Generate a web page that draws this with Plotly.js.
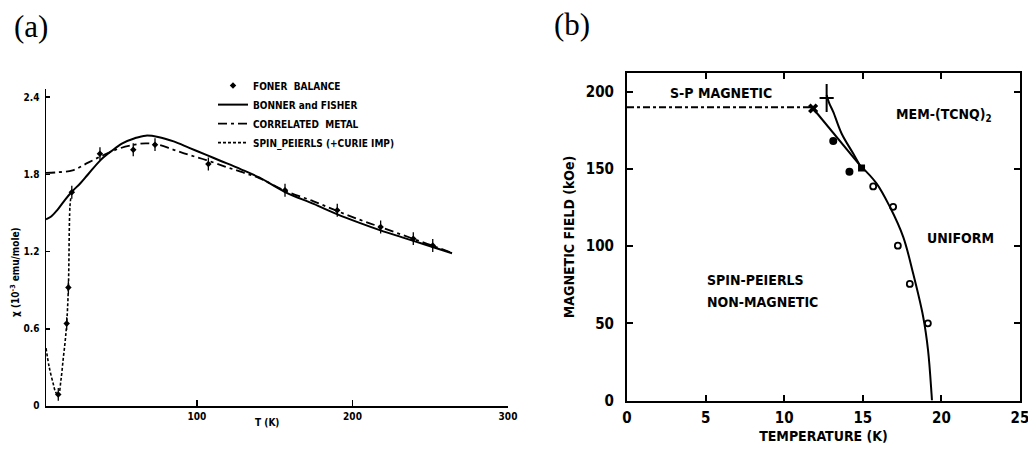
<!DOCTYPE html>
<html>
<head>
<meta charset="utf-8">
<script src="https://cdn.plot.ly/plotly-3.0.1.min.js"></script>
<style>html,body{margin:0;padding:0;background:#fff;}#chart{width:1028px;height:453px;}</style>
</head>
<body>
<div id="chart"></div>
<script>
// ---------- Panel (a): susceptibility vs temperature ----------
const fonerT   = [10.8, 16.2, 17.3, 19.5, 37.6, 59, 73, 107.3, 156.6, 190.2, 218.1, 239.1, 251.6];
const fonerChi = [0.09, 0.64, 0.92, 1.66, 1.96, 1.99, 2.03, 1.88, 1.676, 1.52, 1.39, 1.30, 1.247];
const fonerErr = [0.05, 0.05, 0.05, 0.05, 0.05, 0.05, 0.05, 0.05, 0.05, 0.05, 0.05, 0.05, 0.05];

const bonnerT   = [2.9, 6, 10, 15, 20, 25, 30, 38, 45, 52, 60, 67, 75, 85, 95, 106, 115, 128, 140, 157, 175, 190, 205, 218, 232, 245, 258, 264];
const bonnerChi = [1.45, 1.47, 1.52, 1.60, 1.67, 1.73, 1.80, 1.91, 1.98, 2.04, 2.08, 2.10, 2.09, 2.055, 2.005, 1.95, 1.905, 1.84, 1.775, 1.66, 1.57, 1.49, 1.42, 1.364, 1.31, 1.26, 1.21, 1.187];

const metalT   = [2.9, 10, 20, 30, 40, 50, 60, 67, 75, 85, 95, 106, 118, 128, 140, 157, 175, 190, 205, 218, 233, 248, 264];
const metalChi = [1.81, 1.815, 1.83, 1.89, 1.95, 2.00, 2.03, 2.04, 2.03, 1.99, 1.95, 1.91, 1.86, 1.82, 1.77, 1.67, 1.59, 1.515, 1.445, 1.39, 1.325, 1.26, 1.19];

const spT   = [2.9, 5, 7.6, 9, 10.8, 12.5, 14, 15.2, 16.2, 17.3, 18.3, 19];
const spChi = [0.45, 0.30, 0.17, 0.11, 0.08, 0.20, 0.37, 0.50, 0.64, 0.92, 1.55, 1.63];

const aYTickVals = [0, 0.6, 1.2, 1.8, 2.4];
const aYTickText = ["0", "0.6", "1.2", "1.8", "2.4"];
const aXTickVals = [100, 200, 300];

// ---------- Panel (b): phase diagram ----------
const dashBoundaryT = [0, 11.8];
const dashBoundaryH = [190, 190];

const upperCurveT = [11.84, 13.3, 14.81];
const upperCurveH = [189.2, 171.5, 152.5];
const plusCurveT = [12.7, 12.85, 13.12, 13.65, 14.39, 14.81];
const plusCurveH = [198, 193, 187, 173, 160, 152.5];
const mainCurveT = [14.81, 15.87, 16.72, 17.57, 18.2, 18.84, 19.15, 19.37, 19.4];
const mainCurveH = [152.5, 140.7, 125.5, 106, 82.4, 54.3, 32.7, 4.7, 0];

const filledCircT = [13.12, 14.15];
const filledCircH = [168.1, 148.2];
const squareT = [14.92];
const squareH = [150.6];
const openCircT = [15.66, 16.93, 17.23, 17.99, 19.14];
const openCircH = [138.7, 125.5, 100.3, 75.5, 50.0];
const crossT = [11.84];
const crossH = [189.2];
const plusT = [12.7];
const plusH = [196];

const bXTickVals = [0, 5, 10, 15, 20, 25];
const bYTickVals = [0, 50, 100, 150, 200];

const FONT = "DejaVu Sans Condensed, DejaVu Sans, Arial, sans-serif";
const K = "#000";

const traces = [
  {x: fonerT, y: fonerChi, xaxis: "x", yaxis: "y", type: "scatter", mode: "markers",
   name: "FONER  BALANCE",
   marker: {symbol: "diamond", size: 5, color: K},
   error_y: {type: "data", array: fonerErr, visible: true, color: K, thickness: 1.3, width: 0}},
  {x: bonnerT, y: bonnerChi, xaxis: "x", yaxis: "y", type: "scatter", mode: "lines",
   name: "BONNER and FISHER", line: {color: K, width: 2, shape: "spline"}},
  {x: metalT, y: metalChi, xaxis: "x", yaxis: "y", type: "scatter", mode: "lines",
   name: "CORRELATED  METAL", line: {color: K, width: 1.8, dash: "9px,4px,3px,4px", shape: "spline"}},
  {x: spT, y: spChi, xaxis: "x", yaxis: "y", type: "scatter", mode: "lines",
   name: "SPIN_PEIERLS (+CURIE IMP)", line: {color: K, width: 1.6, dash: "3px,2px", shape: "spline"}},

  {x: dashBoundaryT, y: dashBoundaryH, xaxis: "x2", yaxis: "y2", type: "scatter", mode: "lines",
   showlegend: false, line: {color: K, width: 2, dash: "7px,3px,3px,3px"}},
  {x: upperCurveT, y: upperCurveH, xaxis: "x2", yaxis: "y2", type: "scatter", mode: "lines",
   showlegend: false, line: {color: K, width: 2}},
  {x: plusCurveT, y: plusCurveH, xaxis: "x2", yaxis: "y2", type: "scatter", mode: "lines",
   showlegend: false, line: {color: K, width: 2, shape: "spline"}},
  {x: mainCurveT, y: mainCurveH, xaxis: "x2", yaxis: "y2", type: "scatter", mode: "lines",
   showlegend: false, line: {color: K, width: 2, shape: "spline"}},
  {x: filledCircT, y: filledCircH, xaxis: "x2", yaxis: "y2", type: "scatter", mode: "markers",
   showlegend: false, marker: {symbol: "circle", size: 8, color: K}},
  {x: squareT, y: squareH, xaxis: "x2", yaxis: "y2", type: "scatter", mode: "markers",
   showlegend: false, marker: {symbol: "square", size: 7, color: K}},
  {x: openCircT, y: openCircH, xaxis: "x2", yaxis: "y2", type: "scatter", mode: "markers",
   showlegend: false, marker: {symbol: "circle-open", size: 6, color: K, line: {width: 1.8, color: K}}},
  {x: crossT, y: crossH, xaxis: "x2", yaxis: "y2", type: "scatter", mode: "markers",
   showlegend: false, marker: {symbol: "x", size: 9, color: K}},
  {x: plusT, y: plusH, xaxis: "x2", yaxis: "y2", type: "scatter", mode: "markers",
   showlegend: false, marker: {symbol: "circle", size: 2, color: K},
   error_x: {type: "constant", value: 0.45, color: K, thickness: 2, width: 0},
   error_y: {type: "constant", value: 9, color: K, thickness: 2, width: 0}}
];

const bold = (size) => ({family: FONT, size: size, color: K, weight: "bold"});

const layout = {
  width: 1028, height: 453,
  margin: {l: 0, r: 0, t: 0, b: 0},
  paper_bgcolor: "#fff", plot_bgcolor: "rgba(0,0,0,0)",
  font: {family: FONT, color: K},
  showlegend: true,
  legend: {x: 213/1028, y: 0.843, xanchor: "left", yanchor: "top",
           bgcolor: "rgba(0,0,0,0)", font: bold(10), tracegroupgap: 0},
  xaxis: {domain: [46/1028, 508/1028], range: [2.9, 300], anchor: "y",
          tickvals: aXTickVals, ticks: "inside", ticklen: 6, tickwidth: 1.5, tickcolor: K,
          showline: true, linewidth: 1.5, linecolor: K, showgrid: false, zeroline: false,
          tickfont: bold(10), ticklabeloverflow: "allow"},
  yaxis: {domain: [0.10375, 0.8029], range: [0, 2.46], anchor: "x",
          tickvals: aYTickVals, ticktext: aYTickText, ticks: "inside", ticklen: 4, tickwidth: 1.5, tickcolor: K,
          showline: true, linewidth: 1.5, linecolor: K, showgrid: false, zeroline: false,
          tickfont: bold(10), ticklabelstandoff: 3, ticklabeloverflow: "allow"},
  xaxis2: {domain: [627/1028, 1020/1028], range: [0, 25], anchor: "y2",
           tickvals: bXTickVals, ticks: "inside", ticklen: 6, tickwidth: 2, tickcolor: K,
           showline: true, mirror: "ticks", linewidth: 2, linecolor: K, showgrid: false, zeroline: false,
           tickfont: bold(15), ticklabelstandoff: 2, ticklabeloverflow: "allow",
           title: {text: "TEMPERATURE (K)", font: bold(14), standoff: 6}},
  yaxis2: {domain: [0.11589, 0.83819], range: [0, 212], anchor: "x2",
           tickvals: bYTickVals, ticks: "inside", ticklen: 6, tickwidth: 2, tickcolor: K,
           showline: true, mirror: "ticks", linewidth: 2, linecolor: K, showgrid: false, zeroline: false,
           tickfont: bold(15), ticklabelstandoff: 8, ticklabeloverflow: "allow",
           title: {text: "MAGNETIC FIELD (kOe)", font: bold(14), standoff: 8}},
  annotations: [
    {text: "(a)", xref: "paper", yref: "paper", x: 31/1028, y: (453-27)/453, xanchor: "center", yanchor: "middle",
     showarrow: false, font: {family: "Liberation Serif, Times New Roman, serif", size: 31, color: K}},
    {text: "(b)", xref: "paper", yref: "paper", x: 572/1028, y: (453-25)/453, xanchor: "center", yanchor: "middle",
     showarrow: false, font: {family: "Liberation Serif, Times New Roman, serif", size: 31, color: K}},
    {text: "χ (10<sup>-3</sup> emu/mole)", xref: "paper", yref: "paper", x: 15/1028, y: (453-272)/453,
     xanchor: "center", yanchor: "middle", textangle: -90, showarrow: false, font: bold(10)},
    {text: "T (K)", xref: "paper", yref: "paper", x: 267/1028, y: (453-422)/453,
     xanchor: "center", yanchor: "middle", showarrow: false, font: bold(10)},
    {text: "S-P MAGNETIC", xref: "x2", yref: "y2", x: 5.98, y: 199.2, xanchor: "center", yanchor: "middle",
     showarrow: false, font: bold(14)},
    {text: "MEM-(TCNQ)<sub>2</sub>", xref: "x2", yref: "y2", x: 20.15, y: 184.9, xanchor: "center", yanchor: "middle",
     showarrow: false, font: bold(14)},
    {text: "UNIFORM", xref: "x2", yref: "y2", x: 21.23, y: 105.2, xanchor: "center", yanchor: "middle",
     showarrow: false, font: bold(14)},
    {text: "SPIN-PEIERLS", xref: "x2", yref: "y2", x: 4.96, y: 78, xanchor: "left", yanchor: "middle",
     showarrow: false, font: bold(14)},
    {text: "NON-MAGNETIC", xref: "x2", yref: "y2", x: 4.96, y: 63.8, xanchor: "left", yanchor: "middle",
     showarrow: false, font: bold(14)}
  ]
};

Plotly.newPlot("chart", traces, layout, {staticPlot: true, displayModeBar: false});
</script>
</body>
</html>
